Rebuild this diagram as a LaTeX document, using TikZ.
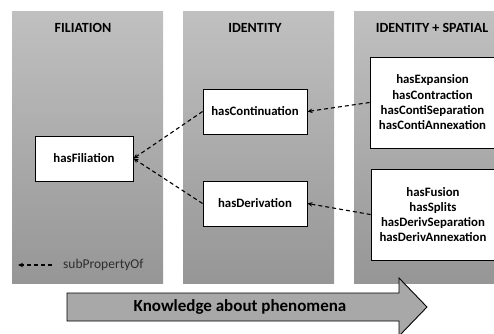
\documentclass[tikz,border=0pt]{standalone}
\usepackage{fontspec}
\setmainfont{Carlito}
\usetikzlibrary{arrows.meta}
\definecolor{paneltop}{RGB}{192,192,192}
\definecolor{panelbottom}{RGB}{150,150,150}
\definecolor{bandfill}{RGB}{168,168,168}
\definecolor{legendtext}{RGB}{45,45,45}
\begin{document}
\begin{tikzpicture}[
    x=1pt, y=-1pt,
    panel/.style={top color=paneltop, bottom color=panelbottom},
    title/.style={font=\bfseries\fontsize{14}{16}\selectfont},
    prop/.style={draw, line width=0.9pt, fill=white, align=center, inner sep=0pt,
        font=\bfseries\fontsize{12.8}{15.3}\selectfont},
    sub/.style={dash pattern=on 4pt off 3pt, line width=1.1pt, -{Stealth[length=5pt,width=4.5pt]}}
]
\useasboundingbox (0,0) rectangle (494,333);

% columns
\shade[panel] (12,11) rectangle (163,283);
\shade[panel] (183,11) rectangle (334,283);
\shade[panel] (354,11) rectangle (500,283);
\node[title] (tfil) at (83,28) {FILIATION};
\node[title] (tid) at (255,28) {IDENTITY};
\node[title] (tsp) at (432,28) {IDENTITY + SPATIAL};

% properties
\node[prop, minimum width=98pt, minimum height=45pt] (fil) at (84,158.5) {hasFiliation};
\node[prop, minimum width=104pt, minimum height=45pt] (cont) at (255,111.5) {hasContinuation};
\node[prop, minimum width=104pt, minimum height=45pt] (deriv) at (255,203.5) {hasDerivation};
\node[prop, minimum width=125pt, minimum height=91pt] (spcont) at (432.5,102.5)
    {hasExpansion\\hasContraction\\hasContiSeparation\\hasContiAnnexation};
\node[prop, minimum width=124pt, minimum height=91pt] (spderiv) at (433,214.5)
    {hasFusion\\hasSplits\\hasDerivSeparation\\hasDerivAnnexation};

\draw[sub] (spcont.west) -- (cont.east);
\draw[sub] (spderiv.west) -- (deriv.east);
\draw[sub] (cont.west) -- (fil.east);
\draw[sub] (deriv.west) -- (fil.east);

% legend
\coordinate (lgA) at (52,265);
\coordinate (lgB) at (18,265);
\draw[sub] (lgA) -- (lgB);
\node[anchor=west, inner sep=0pt, text=legendtext, font=\fontsize{13.5}{15}\selectfont] (lgtext) at (63,265) {subPropertyOf};

% knowledge arrow
\draw[fill=bandfill, line width=0.9pt] (67,293) -- (399,293) -- (399,278) -- (427,307)
    -- (399,336) -- (399,321) -- (67,321) -- cycle;
\node[font=\bfseries\fontsize{17}{19}\selectfont] (band) at (240,307) {Knowledge about phenomena};
\end{tikzpicture}
\end{document}
